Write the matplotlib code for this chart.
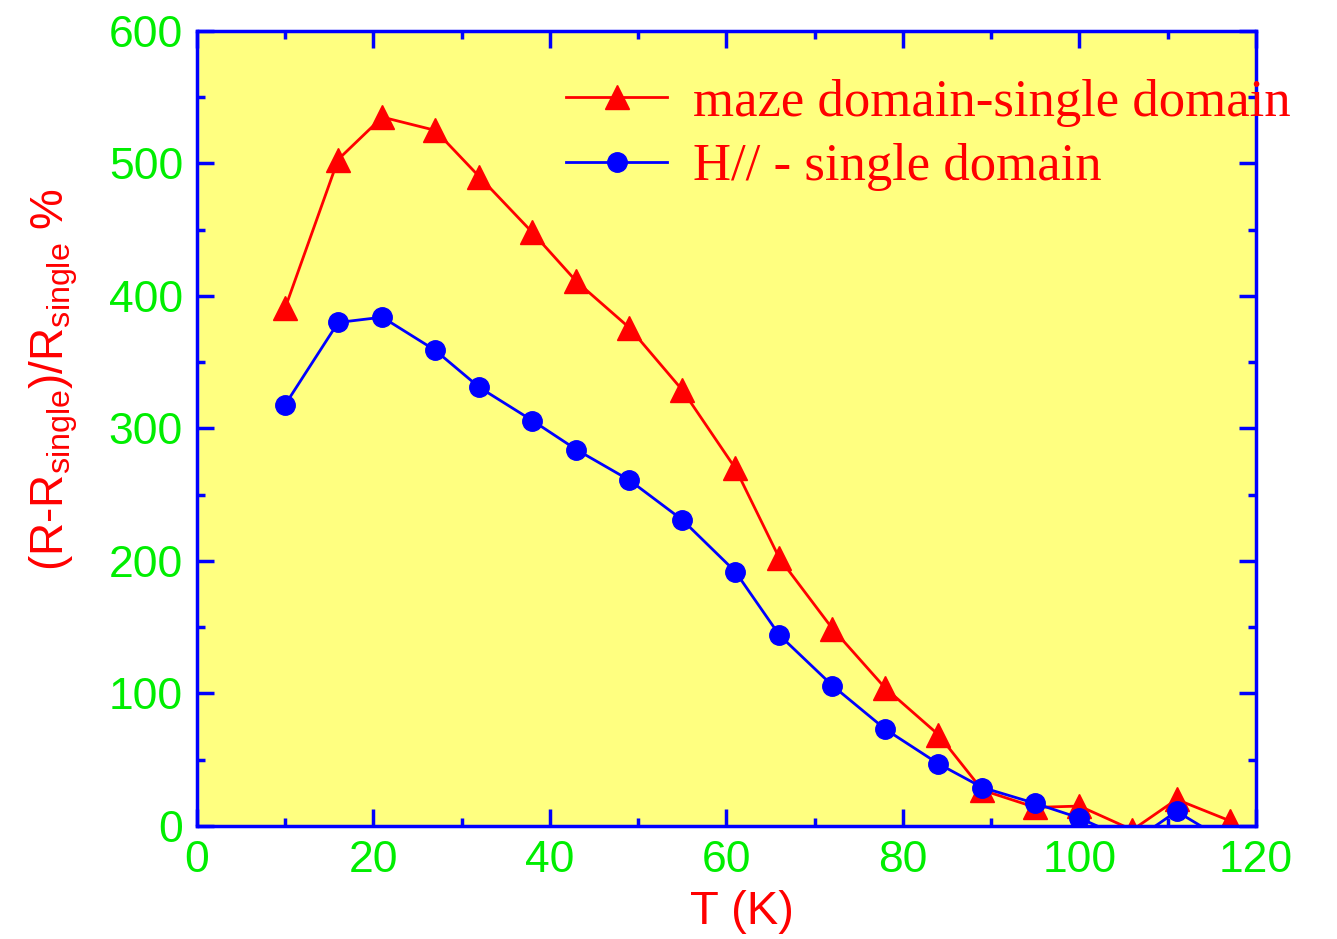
import matplotlib
matplotlib.use("Agg")
import matplotlib.pyplot as plt
from matplotlib.ticker import MultipleLocator

# data
T = [10, 16, 21, 27, 32, 38, 43, 49, 55, 61, 66, 72, 78, 84, 89, 95, 100, 106, 111, 117]
maze = [391, 503, 535, 525, 490, 448, 411, 376, 329, 270, 202, 149, 104, 69, 27, 14, 15, -3, 20, 4]
hpar = [318, 380, 384, 359, 331, 306, 284, 261, 231, 192, 144, 106, 73, 47, 29, 17, 6, -12, 11, -13]

green = "#00ee00"

fig = plt.figure(figsize=(13.37, 9.39), dpi=100)
ax = fig.add_axes([0.1473, 0.1204, 0.7921, 0.8466])
ax.set_facecolor("#ffff80")

ax.plot(T, maze, color="red", marker="^", markersize=17, lw=2,
        label="maze domain-single domain")
ax.plot(T, hpar, color="blue", marker="o", markersize=14, lw=2,
        label="H// - single domain")

ax.set_xlim(0, 120)
ax.set_ylim(0, 600)
ax.xaxis.set_major_locator(MultipleLocator(20))
ax.xaxis.set_minor_locator(MultipleLocator(10))
ax.yaxis.set_major_locator(MultipleLocator(100))
ax.yaxis.set_minor_locator(MultipleLocator(50))

for s in ax.spines.values():
    s.set_color("blue")
    s.set_linewidth(2.5)
ax.tick_params(which="both", direction="in", top=True, right=True, color="blue")
ax.tick_params(which="major", length=12, width=2.5, labelsize=32,
               labelcolor=green, pad=10)
ax.tick_params(which="minor", length=6, width=2.5)
for lab in ax.get_xticklabels() + ax.get_yticklabels():
    lab.set_family("Liberation Sans")

ax.set_xlabel("T (K)", color="red", fontsize=34, family="Liberation Sans")
ax.set_ylabel(r"(R-R$_\mathregular{single}$)/R$_\mathregular{single}$ %", color="red",
              fontsize=33, family="Liberation Sans")
ax.xaxis.set_label_coords(0.515, -0.08)
ax.yaxis.set_label_coords(-0.11, 0.561)

leg = ax.legend(loc="upper left", bbox_to_anchor=(0.324, 0.973), frameon=False,
                prop={"family": "Liberation Serif", "size": 38},
                borderpad=0, handlelength=1.9, handletextpad=0.5,
                labelspacing=0.31, markerscale=1.0)
for t in leg.get_texts():
    t.set_color("red")

fig.savefig("out.png", dpi=100)
